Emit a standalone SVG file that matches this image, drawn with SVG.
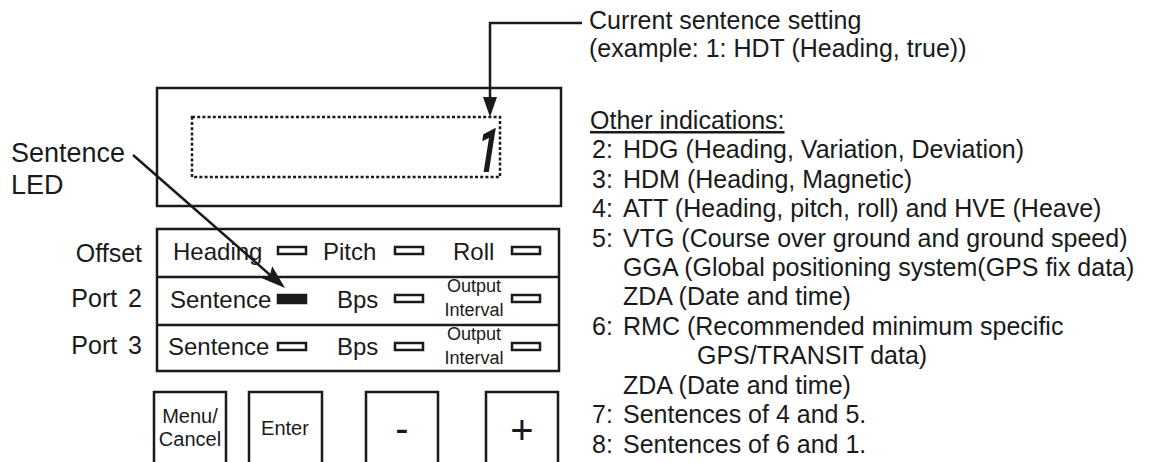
<svg xmlns="http://www.w3.org/2000/svg" width="1149" height="462" viewBox="0 0 1149 462">
<style>
.box{fill:none;stroke:#1a1a1a;stroke-width:2.5}
.led{fill:none;stroke:#1a1a1a;stroke-width:2.5}
.ledon{fill:#1a1a1a;stroke:#1a1a1a;stroke-width:2.5}
.t{font-family:"Liberation Sans",Arial,sans-serif;fill:#1a1a1a}
.p{font-size:24px}
.s{font-size:18px}
.r{font-size:25px}
.btn{font-size:20px}
.conn{fill:none;stroke:#1a1a1a;stroke-width:2.5}
</style>
<defs>
<marker id="ahTop" markerUnits="userSpaceOnUse" markerWidth="20" markerHeight="14" refX="13" refY="7" orient="auto">
<path d="M0,0 L20,7 L0,14 z" fill="#1a1a1a"/>
</marker>
<marker id="ahLed" markerUnits="userSpaceOnUse" markerWidth="24" markerHeight="16" refX="16" refY="8" orient="auto">
<path d="M0,0 L24,8 L0,16 L4,8 z" fill="#1a1a1a"/>
</marker>
</defs>
<rect width="1149" height="462" fill="#ffffff"/>

<g id="display">
<rect class="box" x="157" y="88" width="404" height="118"/>
<rect x="192" y="117" width="308" height="60" fill="none" stroke="#1a1a1a" stroke-width="2.5" stroke-dasharray="3,2.2"/>
<text font-family="Roboto,'Liberation Sans',sans-serif" font-weight="bold" fill="#1a1a1a" font-size="62" text-anchor="middle" transform="translate(485,172) skewX(-9) scale(0.6,1)">1</text>
</g>

<g id="label-sentence-led">
<text class="t" x="11" y="162" font-size="27">Sentence</text>
<text class="t" x="11" y="194" font-size="27">LED</text>
</g>

<g id="row-labels">
<text class="t" x="142" y="262" font-size="25" text-anchor="end">Offset</text>
<text class="t" x="142" y="307" font-size="25" text-anchor="end" word-spacing="4">Port 2</text>
<text class="t" x="142" y="354" font-size="25" text-anchor="end" word-spacing="4">Port 3</text>
</g>

<g id="panel">
<rect class="box" x="157" y="229" width="402" height="142"/>
<line class="box" x1="157" y1="277" x2="559" y2="277"/>
<line class="box" x1="157" y1="325" x2="559" y2="325"/>
</g>

<g id="row-offset">
<text class="t p" x="173" y="260">Heading</text>
<rect class="led" x="278" y="247" width="28" height="7"/>
<text class="t p" x="323" y="260">Pitch</text>
<rect class="led" x="395" y="247" width="28" height="7"/>
<text class="t p" x="453" y="260">Roll</text>
<rect class="led" x="512" y="247" width="28" height="7"/>
</g>

<g id="row-port2">
<text class="t p" x="170" y="308">Sentence</text>
<rect class="ledon" x="278" y="295" width="28" height="8"/>
<text class="t p" x="337" y="308">Bps</text>
<rect class="led" x="395" y="295" width="28" height="7"/>
<text class="t s" x="474" y="292" text-anchor="middle">Output</text>
<text class="t s" x="474" y="316" text-anchor="middle">Interval</text>
<rect class="led" x="512" y="295" width="28" height="7"/>
</g>

<g id="row-port3">
<text class="t p" x="168" y="355">Sentence</text>
<rect class="led" x="278" y="343" width="28" height="7"/>
<text class="t p" x="337" y="355">Bps</text>
<rect class="led" x="395" y="343" width="28" height="7"/>
<text class="t s" x="474" y="340" text-anchor="middle">Output</text>
<text class="t s" x="474" y="364" text-anchor="middle">Interval</text>
<rect class="led" x="512" y="343" width="28" height="7"/>
</g>

<g id="btn-menu">
<rect class="box" x="154" y="392" width="72" height="80"/>
<text class="t btn" x="190" y="423" text-anchor="middle">Menu/</text>
<text class="t btn" x="190" y="446" text-anchor="middle">Cancel</text>
</g>
<g id="btn-enter">
<rect class="box" x="249" y="392" width="73" height="80"/>
<text class="t btn" x="285" y="435" text-anchor="middle">Enter</text>
</g>
<g id="btn-minus">
<rect class="box" x="366" y="392" width="72" height="80"/>
<text class="t" x="402" y="442" font-size="40" text-anchor="middle">-</text>
</g>
<g id="btn-plus">
<rect class="box" x="486" y="392" width="72" height="80"/>
<text class="t" x="522" y="444" font-size="40" text-anchor="middle">+</text>
</g>

<g id="label-current">
<text class="t r" x="589" y="29">Current sentence setting</text>
<text class="t r" x="589" y="57">(example: 1: HDT (Heading, true))</text>
</g>

<g id="label-other">
<text class="t r" x="590" y="129" text-decoration="underline">Other indications:</text>
<text class="t r" x="592" y="158">2:</text><text class="t r" x="623" y="158">HDG (Heading, Variation, Deviation)</text>
<text class="t r" x="592" y="188">3:</text><text class="t r" x="623" y="188">HDM (Heading, Magnetic)</text>
<text class="t r" x="592" y="217">4:</text><text class="t r" x="623" y="217">ATT (Heading, pitch, roll) and HVE (Heave)</text>
<text class="t r" x="592" y="247">5:</text><text class="t r" x="623" y="247">VTG (Course over ground and ground speed)</text>
<text class="t r" x="623" y="276">GGA (Global positioning system(GPS fix data)</text>
<text class="t r" x="623" y="305">ZDA (Date and time)</text>
<text class="t r" x="592" y="335">6:</text><text class="t r" x="623" y="335">RMC (Recommended minimum specific</text>
<text class="t r" x="697" y="364">GPS/TRANSIT data)</text>
<text class="t r" x="623" y="394">ZDA (Date and time)</text>
<text class="t r" x="592" y="423">7:</text><text class="t r" x="623" y="423">Sentences of 4 and 5.</text>
<text class="t r" x="592" y="453">8:</text><text class="t r" x="623" y="453">Sentences of 6 and 1.</text>
</g>

<g id="connectors">
<path class="conn" d="M582,23 H490 V110" marker-end="url(#ahTop)"/>
<path class="conn" d="M133,155 L279,282.7" stroke-width="2" marker-end="url(#ahLed)"/>
</g>
</svg>
